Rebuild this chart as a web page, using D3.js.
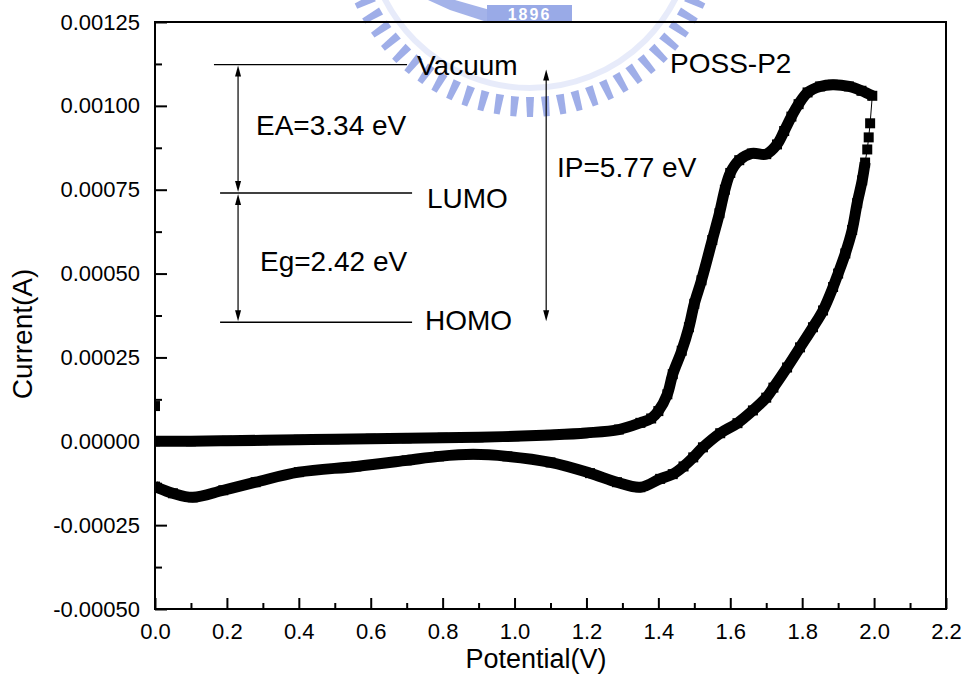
<!DOCTYPE html>
<html>
<head>
<meta charset="utf-8">
<script src="https://cdn.jsdelivr.net/npm/d3@7"></script>
<style>
  html, body { margin: 0; padding: 0; background: #fff; }
  svg { display: block; }
  text { font-family: "Liberation Sans", Arial, Helvetica, sans-serif; fill: #000; }
</style>
</head>
<body>
<svg id="chart" width="964" height="694"></svg>
<script>
// ---- cyclic voltammogram of POSS-P2 ----
// start point of the scan
const startV = [0.0];
const startI = [0.000105];

// anodic (forward) scan
const forwardV = [0.00, 0.10, 0.20, 0.30, 0.40, 0.50, 0.60, 0.70, 0.80, 0.90, 1.00, 1.10, 1.20, 1.29, 1.35, 1.38, 1.40,
  1.425, 1.44, 1.465, 1.485, 1.50, 1.52, 1.55, 1.57, 1.585, 1.60, 1.625, 1.66, 1.70, 1.73, 1.75, 1.77, 1.79, 1.815,
  1.85, 1.885, 1.93, 1.965, 1.995];
const forwardI = [0.0, 0.0, 0.0000015, 0.000003, 0.0000045, 0.000006, 0.0000075, 0.000009, 0.0000105, 0.000012,
  0.000015, 0.000019, 0.000025, 0.000035, 0.000055, 0.000068, 0.00009,
  0.00014, 0.0002, 0.00027, 0.00034, 0.00041, 0.00048, 0.0006, 0.00068, 0.00075, 0.0008, 0.000838, 0.000858,
  0.000856, 0.000885, 0.000925, 0.000968, 0.001005, 0.00104, 0.001058, 0.001063, 0.001058, 0.001045, 0.00103];

// first points after the switching potential (sparse)
const turnV = [1.989, 1.985, 1.981];
const turnI = [0.000948, 0.000906, 0.00087];

// cathodic (reverse) scan
const reverseV = [1.975, 1.967, 1.953, 1.939, 1.92, 1.90, 1.886, 1.858, 1.83, 1.794, 1.758, 1.72, 1.70, 1.663, 1.62,
  1.572, 1.524, 1.497, 1.47, 1.44, 1.405, 1.35, 1.285, 1.21, 1.10, 0.98, 0.885, 0.79, 0.70, 0.56, 0.40, 0.28, 0.19,
  0.105, 0.05, 0.0];
const reverseI = [0.000831, 0.000778, 0.00071, 0.00063, 0.00056, 0.0005, 0.00046, 0.00039, 0.00034, 0.00028, 0.00022,
  0.00016, 0.00013, 0.000092, 0.000054, 0.000024, -0.000018, -0.000048, -0.000075, -0.000098, -0.000112, -0.000137,
  -0.000122, -0.000095, -0.000063, -0.000045, -0.000039, -0.000045, -0.000057, -0.000075, -0.000092, -0.000122,
  -0.000146, -0.000167, -0.000155, -0.000135];

// axes
const xTicks = [0.0, 0.2, 0.4, 0.6, 0.8, 1.0, 1.2, 1.4, 1.6, 1.8, 2.0, 2.2];
const xTickLabels = ["0.0", "0.2", "0.4", "0.6", "0.8", "1.0", "1.2", "1.4", "1.6", "1.8", "2.0", "2.2"];
const xMinorTicks = [0.1, 0.3, 0.5, 0.7, 0.9, 1.1, 1.3, 1.5, 1.7, 1.9, 2.1];
const yTicks = [-0.0005, -0.00025, 0.0, 0.00025, 0.0005, 0.00075, 0.001, 0.00125];
const yTickLabels = ["-0.00050", "-0.00025", "0.00000", "0.00025", "0.00050", "0.00075", "0.00100", "0.00125"];
const yMinorTicks = [-0.000375, -0.000125, 0.000125, 0.000375, 0.000625, 0.000875, 0.001125];

// energy level diagram (placed in axis units)
const levelNames = ["Vacuum", "LUMO", "HOMO"];
const levelI = [0.001123, 0.00074, 0.000355];
const levelStartV = [0.164, 0.181, 0.181];
const levelEndV = [0.701, 0.715, 0.715];
const gapNames = ["EA=3.34 eV", "Eg=2.42 eV", "IP=5.77 eV"];
const gapV = [0.231, 0.231, 1.088];
const gapFromI = [0.00074, 0.000355, 0.000355];
const gapToI = [0.001123, 0.00074, 0.001123];
const seriesName = "POSS-P2";

// ---------------------------------------------------------------
const svg = d3.select("#chart");
const x = d3.scaleLinear().domain([0, 2.2]).range([155, 946]);
const y = d3.scaleLinear().domain([-0.0005, 0.00125]).range([609, 22]);

// faint emblem watermark behind the plot
(function emblem() {
  const g = svg.append("g").attr("opacity", 0.68);
  const cx = 530, cy = -75;
  g.append("circle").attr("cx", cx).attr("cy", cy).attr("r", 163)
    .attr("fill", "none").attr("stroke", "#dde3f8").attr("stroke-width", 6);
  for (let a = 0; a < 360; a += 5) {
    const rad = a * Math.PI / 180;
    const px = cx + 182 * Math.sin(rad), py = cy + 182 * Math.cos(rad);
    if (py < -10) continue;
    g.append("path").attr("d", "M-4,-10 L4,-10 L3,10 L-3,10 Z")
      .attr("fill", "#7288de")
      .attr("transform", `translate(${px},${py}) rotate(${-a})`);
  }
  g.append("path").attr("d", "M428,0 L455,0 L490,10 L487,22 L450,10 Z").attr("fill", "#7a90e0");
  g.append("rect").attr("x", 487).attr("y", 5).attr("width", 85).attr("height", 17).attr("fill", "#6a83dc");
  g.append("text").attr("x", 529.5).attr("y", 20).attr("text-anchor", "middle")
    .style("font-size", "16px").style("font-weight", "bold").style("letter-spacing", "2px")
    .style("fill", "#ffffff").text("1896");
})();

// frame
svg.append("rect").attr("x", 155).attr("y", 22).attr("width", 946 - 155).attr("height", 609 - 22)
  .attr("fill", "none").attr("stroke", "#000").attr("stroke-width", 2);

// axes: inward major and minor ticks
function styleAxis(g) {
  g.select(".domain").remove();
  g.selectAll(".tick line").attr("stroke", "#000").attr("stroke-width", 2);
  g.selectAll(".tick text").style("font-size", "22px").attr("fill", "#000");
}
svg.append("g").attr("transform", "translate(0,609)")
  .call(d3.axisBottom(x).tickValues(xTicks).tickSize(-11).tickPadding(14)
    .tickFormat((d, i) => xTickLabels[i]))
  .call(styleAxis);
svg.append("g").attr("transform", "translate(0,609)")
  .call(d3.axisBottom(x).tickValues(xMinorTicks).tickSize(-6).tickFormat(""))
  .call(styleAxis);
svg.append("g").attr("transform", "translate(155,0)")
  .call(d3.axisLeft(y).tickValues(yTicks).tickSize(-12).tickPadding(15)
    .tickFormat((d, i) => yTickLabels[i]))
  .call(styleAxis);
svg.append("g").attr("transform", "translate(155,0)")
  .call(d3.axisLeft(y).tickValues(yMinorTicks).tickSize(-7).tickFormat(""))
  .call(styleAxis);

// axis titles
svg.append("text").attr("x", 536).attr("y", 668).attr("text-anchor", "middle")
  .style("font-size", "27px").text("Potential(V)");
svg.append("text").attr("transform", "translate(32,334) rotate(-90)").attr("text-anchor", "middle")
  .style("font-size", "28px").text("Current(A)");

// data
const clip = svg.append("clipPath").attr("id", "plotclip");
clip.append("rect").attr("x", 156).attr("y", 23).attr("width", 946 - 157).attr("height", 609 - 24);
const plot = svg.append("g").attr("clip-path", "url(#plotclip)");

const zip = (vs, is) => vs.map((v, i) => [v, is[i]]);
const startPts = zip(startV, startI);
const fwdPts = zip(forwardV, forwardI);
const turnPts = zip(turnV, turnI);
const revPts = zip(reverseV, reverseI);
const allPts = startPts.concat(fwdPts, turnPts, revPts);

const thin = d3.line().x(d => x(d[0])).y(d => y(d[1]));
const band = d3.line().x(d => x(d[0])).y(d => y(d[1])).curve(d3.curveCatmullRom.alpha(0.5));

plot.append("path").attr("d", thin(allPts)).attr("fill", "none").attr("stroke", "#000").attr("stroke-width", 1);
plot.append("path").attr("d", band(fwdPts)).attr("fill", "none").attr("stroke", "#000")
  .attr("stroke-width", 11).attr("stroke-linejoin", "round");
plot.append("path").attr("d", band(revPts)).attr("fill", "none").attr("stroke", "#000")
  .attr("stroke-width", 11).attr("stroke-linejoin", "round");

const sq = 10;
plot.selectAll("rect.pt").data(allPts).join("rect").attr("class", "pt")
  .attr("x", d => x(d[0]) - sq / 2).attr("y", d => y(d[1]) - sq / 2)
  .attr("width", sq).attr("height", sq).attr("fill", "#000");

// energy levels
const ann = svg.append("g");
levelNames.forEach((name, i) => {
  ann.append("line").attr("x1", x(levelStartV[i])).attr("x2", x(levelEndV[i]))
    .attr("y1", y(levelI[i])).attr("y2", y(levelI[i])).attr("stroke", "#000").attr("stroke-width", 1.4);
});
ann.append("text").attr("x", 417).attr("y", y(levelI[0]) + 10).style("font-size", "28px").text(levelNames[0]);
ann.append("text").attr("x", 427).attr("y", y(levelI[1]) + 15).style("font-size", "28px").text(levelNames[1]);
ann.append("text").attr("x", 425).attr("y", y(levelI[2]) + 8).style("font-size", "28px").text(levelNames[2]);

// double-headed gap arrows
function arrowHead(px, py, dir) {
  // dir = -1 points up, +1 points down
  ann.append("path")
    .attr("d", `M${px},${py} L${px - 3},${py - dir * 11} L${px + 3},${py - dir * 11} Z`)
    .attr("fill", "#000");
}
gapNames.forEach((name, i) => {
  const px = x(gapV[i]);
  const yTop = y(gapToI[i]) + 1, yBot = y(gapFromI[i]) - 1;
  const topTip = i === 2 ? yTop + 4 : yTop;
  ann.append("line").attr("x1", px).attr("x2", px).attr("y1", topTip + 4).attr("y2", yBot - 4)
    .attr("stroke", "#000").attr("stroke-width", 1.2);
  arrowHead(px, topTip, -1);
  arrowHead(px, yBot, 1);
});
ann.append("text").attr("x", 256).attr("y", 135).style("font-size", "28px").text(gapNames[0]);
ann.append("text").attr("x", 260).attr("y", 271).style("font-size", "28px").text(gapNames[1]);
ann.append("text").attr("x", 557).attr("y", 177).style("font-size", "28px").text(gapNames[2]);

// series label
svg.append("text").attr("x", 670).attr("y", 73).style("font-size", "28px").text(seriesName);
</script>
</body>
</html>
